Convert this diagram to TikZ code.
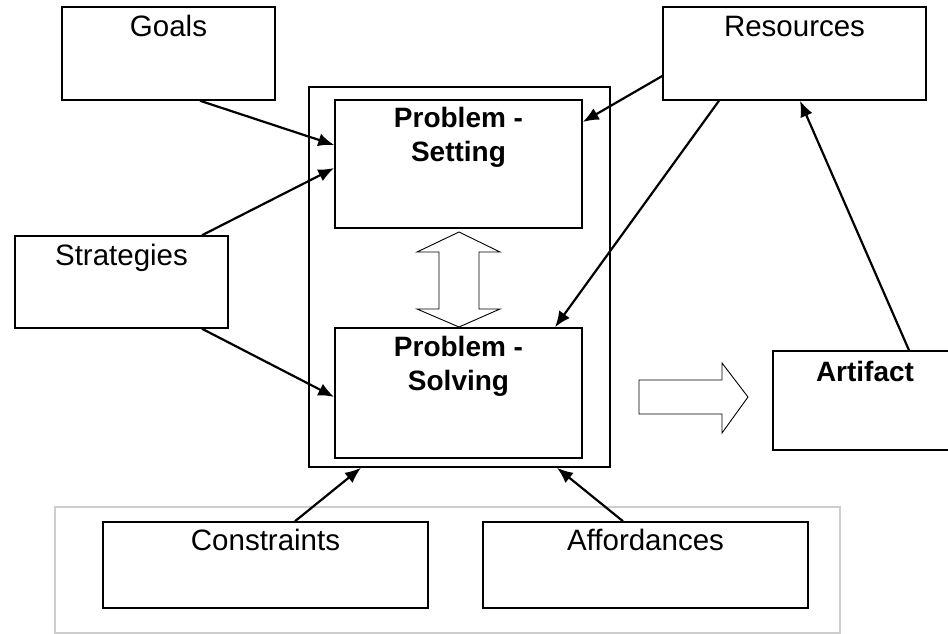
\documentclass[tikz,border=0pt]{standalone}
\usepackage{fontspec}
\setmainfont{Liberation Sans}
\usetikzlibrary{arrows.meta}
\definecolor{framegray}{RGB}{205, 205, 205}

\begin{document}
\begin{tikzpicture}[x=1pt,y=-1pt,
        box/.style={draw,line width=1.5pt,inner sep=0pt},
        toptext/.style={anchor=north,inner sep=0pt,yshift=-9pt,align=center,
            font=\fontsize{29.5}{34}\selectfont},
        boldtext/.style={toptext,font=\fontsize{28}{34}\selectfont\bfseries},
        arr/.style={line width=2.2pt,-{Latex[length=16pt,width=13pt]}},
        hollow/.style={draw,line width=0.9pt,fill=white,line join=miter}]
        \useasboundingbox (0,0) rectangle (948,634);

        \coordinate (v1) at (168.5,53.5);
        \coordinate (v2) at (121.5,282);
        \coordinate (v3) at (794.5,53.5);
        \coordinate (v4) at (459.5,277);
        \coordinate (v5) at (458.5,164);
        \coordinate (v6) at (458.5,393);
        \coordinate (v7) at (865,400.5);
        \coordinate (v8) at (447.5,570);
        \coordinate (v9) at (265.5,565);
        \coordinate (v10) at (645.5,565);

        \node[box,draw=framegray,minimum width=785pt,minimum height=126pt] (Ground) at (v8){};

        \node[box,minimum width=213pt,minimum height=93pt,label={[toptext]north:Goals}] (Goals) at (v1){};
        \node[box,minimum width=213pt,minimum height=92pt,label={[toptext]north:Strategies}] (Strategies) at (v2){};
        \node[box,minimum width=263pt,minimum height=93pt,label={[toptext,yshift=-1pt]north:Resources}] (Resources) at (v3){};
        \node[box,minimum width=301pt,minimum height=380pt] (Frame) at (v4){};
        \node[box,minimum width=247pt,minimum height=128pt,label={[boldtext,yshift=1pt]north:Problem -\\Setting}] (Setting) at (v5){};
        \node[box,minimum width=247pt,minimum height=130pt,label={[boldtext]north:Problem -\\Solving}] (Solving) at (v6){};
        \node[box,minimum width=184pt,minimum height=99pt,label={[boldtext,yshift=-2pt]north:Artifact}] (Artifact) at (v7){};
        \node[box,minimum width=325pt,minimum height=86pt,label={[toptext,yshift=1pt]north:Constraints}] (Constraints) at (v9){};
        \node[box,minimum width=325pt,minimum height=86pt,label={[toptext,yshift=1pt]north:Affordances}] (Affordances) at (v10){};

        \draw[arr] ([xshift=31.5pt]Goals.south) -- ([yshift=19pt]Setting.west);
        \draw[arr] ([xshift=80.5pt]Strategies.north) -- ([yshift=-4pt]Setting.west);
        \draw[arr] ([xshift=80.5pt]Strategies.south) -- ([yshift=-4pt]Solving.west);
        \draw[arr] ([yshift=-22.5pt]Resources.west) -- ([yshift=42pt]Setting.east);
        \draw[arr] ([xshift=-75.5pt]Resources.south) -- ([xshift=96.5pt]Solving.north);
        \draw[arr] ([xshift=44pt]Artifact.north) -- ([xshift=5.5pt]Resources.south);
        \draw[arr] ([xshift=29.5pt]Constraints.north) -- ([xshift=-98.5pt]Frame.south);
        \draw[arr] ([xshift=-22.5pt]Affordances.north) -- ([xshift=97.5pt]Frame.south);

        % block arrows
        \draw[hollow] (459,232) -- (500,252) -- (479,252) -- (479,309) -- (500,309) -- (459,327)
            -- (417,309) -- (439,309) -- (439,252) -- (417,252) -- cycle;
        \draw[hollow] (639,380) -- (722,380) -- (722,363) -- (748,397) -- (722,433)
            -- (722,414) -- (639,414) -- cycle;
    \end{tikzpicture}
\end{document}
